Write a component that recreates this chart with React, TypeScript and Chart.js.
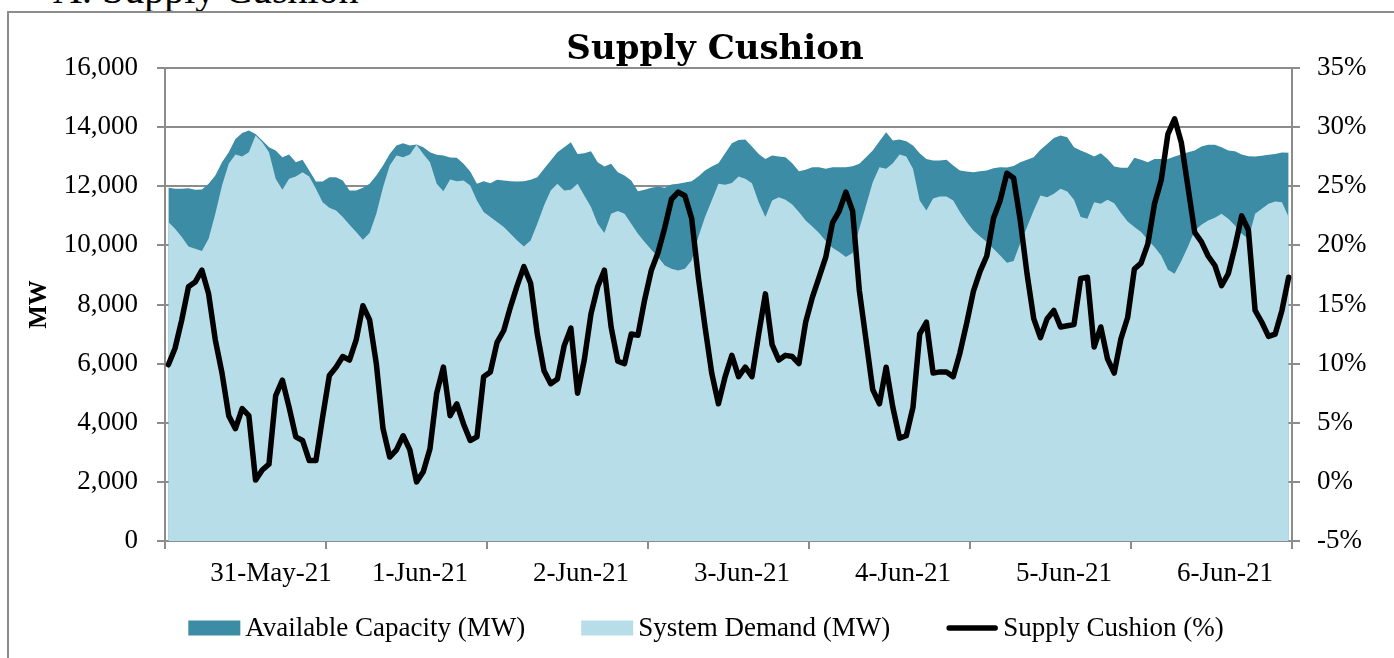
import { useEffect, useRef } from 'react';
import { Chart, registerables } from 'chart.js';

Chart.register(...registerables);

// Day labels for the x axis (one per day)
const dayLabels = ['31-May-21', '1-Jun-21', '2-Jun-21', '3-Jun-21', '4-Jun-21', '5-Jun-21', '6-Jun-21'];

// Hourly Available Capacity (MW)
const capacity = [
  11947, 11913, 11913, 11936, 11879, 11890, 12082, 12363, 12814, 13152, 13602, 13805,
  13884, 13771, 13546, 13321, 13208, 12983, 13073, 12814, 12893, 12533, 12161, 12161,
  12307, 12307, 12195, 11857, 11857, 11947, 12082, 12363, 12701, 13095, 13377, 13456,
  13377, 13411, 13321, 13152, 13062, 13039, 12970, 12960, 12758, 12499, 12082, 12172,
  12105, 12217, 12195, 12172, 12161, 12172, 12217, 12307, 12589, 12870, 13152, 13321,
  13489, 13095, 13118, 13185, 12814, 12668, 12758, 12476, 12363, 12195, 11834, 11879,
  11947, 11992, 11947, 12060, 12082, 12127, 12172, 12330, 12533, 12668, 12780, 13118,
  13456, 13568, 13580, 13343, 13095, 12926, 13039, 13006, 12983, 12780, 12510, 12555,
  12645, 12645, 12589, 12645, 12645, 12645, 12679, 12758, 12983, 13208, 13523, 13827,
  13546, 13580, 13523, 13377, 13118, 12926, 12870, 12870, 12893, 12701, 12533, 12499,
  12476, 12510, 12533, 12611, 12645, 12633, 12685, 12808, 12893, 12983, 13231, 13433,
  13636, 13715, 13658, 13321, 13208, 13118, 13006, 13118, 12926, 12668, 12622, 12622,
  12960, 12893, 12814, 12926, 12926, 12926, 13006, 13073, 13152, 13208, 13343, 13400,
  13400, 13321, 13208, 13185, 13073, 13017, 13006, 13028, 13062, 13095, 13140, 13129,
];

// Hourly System Demand (MW)
const demand = [
  10787, 10562, 10280, 9965, 9886, 9807, 10224, 11069, 12026, 12757, 13073, 13006,
  13152, 13715, 13489, 13152, 12251, 11879, 12251, 12330, 12476, 12330, 11913, 11463,
  11271, 11181, 10956, 10697, 10449, 10190, 10415, 11069, 11969, 12701, 13039, 12983,
  13073, 13400, 13095, 12814, 12082, 11834, 12230, 12172, 12195, 12026, 11519, 11125,
  10956, 10787, 10618, 10393, 10168, 9965, 10168, 10731, 11350, 11857, 12082, 11857,
  11879, 12082, 11688, 11294, 10731, 10415, 11069, 11159, 11069, 10731, 10393, 10111,
  9853, 9605, 9323, 9211, 9154, 9211, 9492, 10280, 10956, 11519, 12082, 12050,
  12110, 12330, 12251, 12105, 11463, 10956, 11519, 11632, 11542, 11384, 11125, 10843,
  10641, 10415, 10145, 9920, 9774, 9605, 9740, 10562, 11350, 12138, 12645, 12589,
  12780, 13073, 13006, 12589, 11519, 11181, 11587, 11654, 11654, 11519, 11125, 10787,
  10506, 10303, 10111, 9886, 9661, 9410, 9470, 10080, 10618, 11181, 11688, 11632,
  11744, 11913, 11823, 11542, 10956, 10900, 11463, 11406, 11542, 11429, 11091, 10810,
  10618, 10449, 10190, 9942, 9661, 9177, 9042, 9470, 9965, 10506, 10697, 10843,
  10933, 11069, 10900, 10675, 10393, 10224, 11069, 11237, 11406, 11485, 11463, 10956,
];

// Hourly Supply Cushion (%)
const cushion = [
  9.9, 11.3, 13.7, 16.5, 16.9, 17.9, 15.9, 12.0, 9.2, 5.6, 4.5, 6.2,
  5.6, 0.15, 1.0, 1.5, 7.3, 8.6, 6.3, 3.8, 3.5, 1.8, 1.8, 5.5,
  9.0, 9.7, 10.6, 10.3, 12.0, 14.9, 13.7, 10.0, 4.5, 2.1, 2.7, 3.9,
  2.7, 0.0, 0.85, 2.8, 7.5, 9.7, 5.6, 6.6, 4.9, 3.5, 3.8, 8.9,
  9.3, 11.8, 12.8, 14.8, 16.6, 18.2, 16.8, 12.5, 9.4, 8.3, 8.7, 11.5,
  13.0, 7.5, 10.3, 14.2, 16.5, 17.9, 13.1, 10.2, 10.0, 12.5, 12.4, 15.4,
  17.9, 19.4, 21.5, 23.9, 24.5, 24.2, 22.3, 17.3, 13.1, 9.2, 6.6, 8.9,
  10.7, 8.9, 9.7, 8.9, 12.5, 15.9, 11.6, 10.3, 10.7, 10.6, 10.0, 13.5,
  15.6, 17.3, 19.0, 21.9, 22.9, 24.5, 22.9, 16.2, 12.0, 7.8, 6.6, 9.7,
  6.3, 3.7, 3.9, 6.3, 12.5, 13.5, 9.2, 9.3, 9.3, 8.9, 10.9, 13.4,
  16.1, 17.8, 19.1, 22.3, 23.8, 26.1, 25.7, 22.1, 17.6, 13.8, 12.2, 13.8,
  14.5, 13.1, 13.2, 13.3, 17.2, 17.3, 11.4, 13.1, 10.4, 9.2, 12.1, 13.9,
  18.0, 18.5, 20.1, 23.5, 25.5, 29.4, 30.7, 28.7, 24.9, 21.1, 20.3, 19.1,
  18.3, 16.6, 17.6, 19.9, 22.5, 21.3, 14.5, 13.5, 12.3, 12.5, 14.5, 17.3,
];

const seriesNames = ['Available Capacity (MW)', 'System Demand (MW)', 'Supply Cushion (%)'];

const DARK = '#3c8ca5';
const LIGHT = '#b7dee8';
const GRID = '#8c8c8c';
const SERIF = '"Liberation Serif", serif';
const LINE_WIDTH = 5.5;

const HOURS_PER_DAY = 24;
const TOTAL_HOURS = dayLabels.length * HOURS_PER_DAY;
// where the day labels sit along the hour axis (Excel-like placement)
const labelHours = [15.8, 38, 62, 86, 110, 134, 158];

// Legend drawn on the chart canvas below the x axis
const bottomLegend = {
  id: 'bottomLegend',
  afterDraw(chart: any) {
    const { ctx } = chart;
    const boxW = 52;
    const boxH = 15;
    const textGap = 5;
    const itemGap = 56;
    ctx.save();
    ctx.font = `27px ${SERIF}`;
    ctx.textBaseline = 'middle';
    ctx.textAlign = 'left';
    const items = chart.data.datasets.map((ds: any) => ({
      text: ds.label as string,
      color: ds.borderColor as string,
      fill: ds.backgroundColor as string,
      isLine: ds.fill === false,
    }));
    const widths = items.map((it: any) => boxW + textGap + ctx.measureText(it.text).width);
    const total = widths.reduce((a: number, b: number) => a + b, 0) + itemGap * (items.length - 1);
    let x = chart.width / 2 - 9 - total / 2;
    const y = chart.chartArea.bottom + 87;
    items.forEach((it: any, i: number) => {
      if (it.isLine) {
        ctx.strokeStyle = it.color;
        ctx.lineWidth = LINE_WIDTH;
        ctx.lineCap = 'round';
        ctx.beginPath();
        ctx.moveTo(x + 3, y);
        ctx.lineTo(x + boxW - 3, y);
        ctx.stroke();
      } else {
        ctx.fillStyle = it.fill;
        ctx.fillRect(x, y - boxH / 2, boxW, boxH);
      }
      ctx.fillStyle = '#000';
      ctx.fillText(it.text, x + boxW + textGap, y + 1);
      x += widths[i] + itemGap;
    });
    ctx.restore();
  },
};

export default function App() {
  const ref = useRef<HTMLCanvasElement>(null);

  useEffect(() => {
    const canvas = ref.current;
    if (!canvas) return;
    Chart.defaults.font.family = SERIF;
    Chart.defaults.font.size = 27;
    Chart.defaults.color = '#000';

    const toPoints = (arr: number[]) => arr.map((v, i) => ({ x: i + 0.5, y: v }));

    const boundaries: number[] = [];
    for (let h = 0; h <= TOTAL_HOURS; h += HOURS_PER_DAY) boundaries.push(h);

    const chart = new Chart(canvas, {
      type: 'line',
      data: {
        datasets: [
          {
            label: seriesNames[0],
            data: toPoints(capacity),
            backgroundColor: DARK,
            borderColor: DARK,
            borderWidth: 0,
            pointRadius: 0,
            fill: 'origin',
            tension: 0,
            yAxisID: 'y',
            order: 3,
          },
          {
            label: seriesNames[1],
            data: toPoints(demand),
            backgroundColor: LIGHT,
            borderColor: LIGHT,
            borderWidth: 0,
            pointRadius: 0,
            fill: 'origin',
            tension: 0,
            yAxisID: 'y',
            order: 2,
          },
          {
            label: seriesNames[2],
            data: toPoints(cushion),
            backgroundColor: '#000',
            borderColor: '#000',
            borderWidth: LINE_WIDTH,
            borderJoinStyle: 'round',
            borderCapStyle: 'round',
            pointRadius: 0,
            fill: false,
            tension: 0,
            yAxisID: 'y1',
            order: 1,
          },
        ],
      },
      options: {
        responsive: false,
        animation: false,
        devicePixelRatio: 1,
        events: [],
        layout: { padding: { left: 0, right: 0, top: 0, bottom: 57 } },
        plugins: {
          title: {
            display: true,
            text: 'Supply Cushion',
            color: '#000',
            font: { family: '"DejaVu Serif", serif', size: 34, weight: 'bold', lineHeight: 1.0 },
            padding: { top: 18.8, bottom: 1.2 },
          },
          legend: { display: false },
          tooltip: { enabled: false },
        },
        scales: {
          x: {
            type: 'linear',
            min: 0,
            max: TOTAL_HOURS,
            afterBuildTicks: (scale: any) => {
              const vals = [...boundaries, ...labelHours].sort((a, b) => a - b);
              scale.ticks = vals.map((v) => ({ value: v }));
            },
            afterFit: (scale: any) => {
              scale.height = 60;
            },
            ticks: {
              autoSkip: false,
              maxRotation: 0,
              minRotation: 0,
              padding: 9,
              color: '#000',
              font: { family: SERIF, size: 27 },
              callback: (value: any) => {
                const idx = labelHours.indexOf(Number(value));
                return idx >= 0 ? dayLabels[idx] : '';
              },
            },
            grid: {
              drawOnChartArea: false,
              drawTicks: true,
              tickLength: 8,
              tickWidth: 2,
              lineWidth: 2,
              color: GRID,
              tickColor: (ctx: any) =>
                ctx.tick && Number(ctx.tick.value) % HOURS_PER_DAY === 0 ? GRID : 'rgba(0,0,0,0)',
            },
            border: { display: true, color: GRID, width: 2 },
          },
          y: {
            position: 'left',
            min: 0,
            max: 16000,
            afterFit: (scale: any) => {
              scale.width = 155;
            },
            ticks: {
              stepSize: 2000,
              padding: 19,
              color: '#000',
              font: { family: SERIF, size: 27 },
              callback: (v: any) => Number(v).toLocaleString('en-US'),
            },
            grid: { color: GRID, lineWidth: 2, tickLength: 8, drawTicks: true },
            border: { display: true, color: GRID, width: 2 },
            title: {
              display: true,
              text: 'MW',
              color: '#000',
              font: { family: SERIF, size: 25, weight: 'bold', lineHeight: 1.2 },
              padding: { top: 15, bottom: 0 },
            },
          },
          y1: {
            position: 'right',
            min: -5,
            max: 35,
            afterFit: (scale: any) => {
              scale.width = 128;
            },
            ticks: {
              stepSize: 5,
              padding: 17,
              color: '#000',
              font: { family: SERIF, size: 27 },
              callback: (v: any) => `${v}%`,
            },
            grid: { drawOnChartArea: false, color: GRID, lineWidth: 2, tickLength: 8, drawTicks: true },
            border: { display: true, color: GRID, width: 2 },
          },
        },
      } as any,
      plugins: [bottomLegend],
    });

    return () => chart.destroy();
  }, []);

  return (
    <div
      style={{
        position: 'fixed',
        left: 0,
        top: 0,
        width: 1394,
        height: 658,
        overflow: 'hidden',
        background: '#fff',
      }}
    >
      <div
        style={{
          position: 'absolute',
          left: 53,
          top: -30.5,
          fontFamily: SERIF,
          fontSize: 40,
          lineHeight: '40px',
          whiteSpace: 'nowrap',
          color: '#000',
        }}
      >
        A. Supply Cushion
      </div>
      <div
        style={{
          position: 'absolute',
          left: 7,
          top: 11,
          width: 1500,
          height: 800,
          borderLeft: `2px solid ${GRID}`,
          borderTop: `2px solid ${GRID}`,
          boxSizing: 'border-box',
        }}
      />
      <canvas
        ref={ref}
        width={1410}
        height={644}
        style={{ position: 'absolute', left: 10, top: 14, width: 1410, height: 644 }}
      />
    </div>
  );
}
